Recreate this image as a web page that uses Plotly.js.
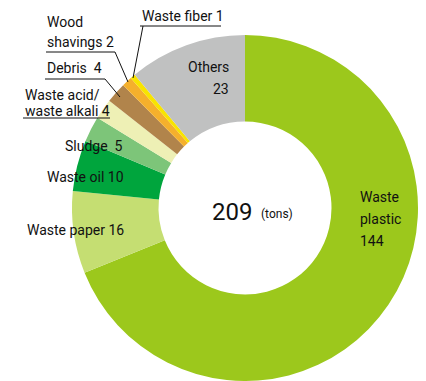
<!DOCTYPE html>
<html><head><meta charset="utf-8">
<script src="https://cdn.plot.ly/plotly-3.0.1.min.js"></script>
<style>html,body{margin:0;padding:0;background:#fff;}#chart{width:426px;height:381px;}</style>
</head><body><div id="chart"></div>
<script>
const categories = ["Waste plastic","Waste paper","Waste oil","Sludge","Waste acid/waste alkali","Debris","Wood shavings","Waste fiber","Others"];
const values = [144,16,10,5,4,4,2,1,23];
const colors = ["#9cc81c","#c5de72","#00a53d","#7dc579","#eef0b5","#b1844b","#f5b02c","#f8e400","#c0c1c1"];
const total = 209;

const F = "'Liberation Sans Narrow','Arial Narrow',Roboto,sans-serif";
const trace = {
  type:"pie", labels:categories, values:values, sort:false, direction:"clockwise", rotation:0,
  hole:0.5, marker:{colors:colors, line:{width:0}}, textinfo:"none", hoverinfo:"label+value",
  domain:{x:[72/426, 418/426], y:[0, 1-35/381]}, showlegend:false
};
function ann(x,y,t,al){return {x:x,y:y,xref:"paper",yref:"paper",text:t,showarrow:false,xanchor:al||"left",yanchor:"middle",align:al||"left",font:{family:F,size:14,color:"#111"}};}
const W=426,H=381;
const px=(x)=>x/W, py=(y)=>1-y/H;
const annotations = [
  ann(px(140),py(16),"Waste fiber 1"),
  ann(px(45),py(22),"Wood"),
  ann(px(45),py(42),"shavings 2"),
  ann(px(45),py(68),"Debris  4"),
  ann(px(23),py(95),"Waste acid/"),
  ann(px(23),py(111),"waste alkali 4"),
  ann(px(63),py(146),"Sludge  5"),
  ann(px(45),py(177),"Waste oil 10"),
  ann(px(25),py(230),"Waste paper 16"),
  ann(px(231),py(67),"Others","right"),
  ann(px(231),py(89),"23","right"),
  ann(px(358),py(197),"Waste"),
  ann(px(358),py(219),"plastic"),
  ann(px(358),py(241),"144"),
  {x:px(254),y:py(212),xref:"paper",yref:"paper",text:String(total),showarrow:false,xanchor:"right",yanchor:"middle",font:{family:F,size:24,color:"#111"}},
  {x:px(259),y:py(214),xref:"paper",yref:"paper",text:"(tons)",showarrow:false,xanchor:"left",yanchor:"middle",font:{family:F,size:12,color:"#111"}}
];
const L={color:"#111",width:1};
const seg=(x0,y0,x1,y1)=>({type:"line",xref:"paper",yref:"paper",x0:px(x0),y0:py(y0),x1:px(x1),y1:py(y1),line:L});
const shapes=[
  seg(140,26,221,26), seg(143,26,133,78),
  seg(46,52,115,52), seg(115,52,128,82),
  seg(45,79,105,79), seg(105,79,120,97),
  seg(23,118,110,118)
];
Plotly.newPlot("chart",[trace],{width:W,height:H,margin:{l:0,r:0,t:0,b:0},paper_bgcolor:"#fff",annotations:annotations,shapes:shapes},{displayModeBar:false,staticPlot:true});
</script></body></html>
